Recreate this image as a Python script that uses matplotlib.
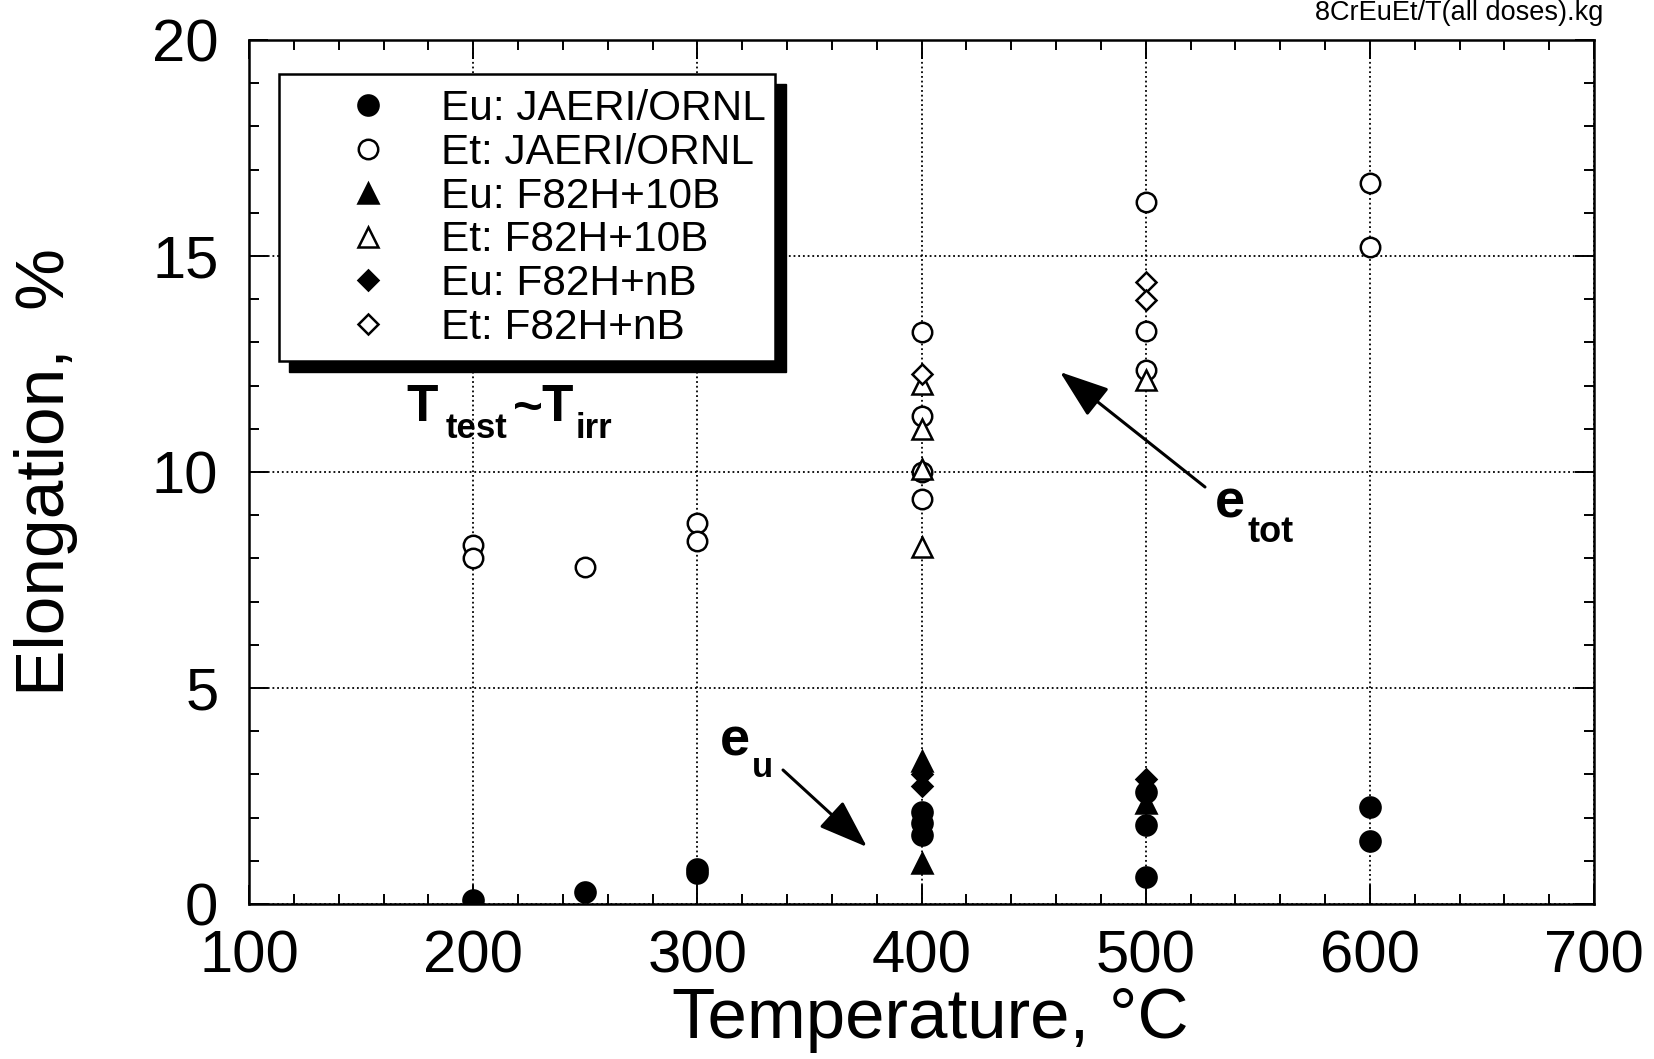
import matplotlib
matplotlib.use('Agg')
import matplotlib.pyplot as plt
from matplotlib.patches import Rectangle
from matplotlib.ticker import MultipleLocator

W, H, DPI = 1654, 1059, 100

# ---------------- data ----------------
eu_jo_T = [200, 250, 300, 300, 400, 400, 400, 500, 500, 500, 600, 600]
eu_jo_E = [0.09, 0.27, 0.80, 0.72, 2.12, 1.87, 1.60, 2.60, 1.83, 0.63, 2.25, 1.45]

et_jo_T = [200, 200, 250, 300, 300, 400, 400, 400, 400, 500, 500, 500, 600, 600]
et_jo_E = [8.31, 8.00, 7.79, 8.81, 8.40, 13.25, 11.30, 10.00, 9.38, 16.26, 13.27, 12.36, 16.68, 15.21]

eu_10b_T = [400, 400, 500]
eu_10b_E = [3.32, 0.95, 2.33]

et_10b_T = [400, 400, 400, 400, 500]
et_10b_E = [12.04, 11.00, 10.07, 8.27, 12.14]

eu_nb_T = [400, 400, 500]
eu_nb_E = [3.00, 2.73, 2.90]

et_nb_T = [400, 500, 500]
et_nb_E = [12.28, 14.40, 13.97]

series_labels = ["Eu: JAERI/ORNL", "Et: JAERI/ORNL", "Eu: F82H+10B",
                 "Et: F82H+10B", "Eu: F82H+nB", "Et: F82H+nB"]
x_ticks = [100, 200, 300, 400, 500, 600, 700]
y_ticks = [0, 5, 10, 15, 20]
x_label = "Temperature, °C"
y_label = "Elongation,  %"
corner_note = "8CrEuEt/T(all doses).kg"

# ---------------- style ----------------
FONT = "Liberation Sans"
plt.rcParams['font.family'] = [FONT, 'DejaVu Sans']

fig = plt.figure(figsize=(W / DPI, H / DPI), dpi=DPI)
ax_l, ax_r, ax_t, ax_b = 249, 1594, 40, 904
ax = fig.add_axes([ax_l / W, 1 - ax_b / H, (ax_r - ax_l) / W, (ax_b - ax_t) / H])


def fpx(px, py):
    """figure-pixel helper (top-left origin) -> figure fraction"""
    return px / W, 1 - py / H


mk = dict(ls='none', color='black', markeredgewidth=1.8, zorder=3)
s_o, s_t, s_d = 14, 14.5, 10
ax.plot(eu_jo_T, eu_jo_E, marker='o', ms=s_o + 0.5, mfc='black', label=series_labels[0], **mk)
ax.plot(et_jo_T, et_jo_E, marker='o', ms=s_o, mfc='white', label=series_labels[1], **mk)
ax.plot(eu_10b_T, eu_10b_E, marker='^', ms=s_t, mfc='black', label=series_labels[2], **mk)
ax.plot(et_10b_T, et_10b_E, marker='^', ms=s_t, mfc='white', label=series_labels[3], **mk)
ax.plot(eu_nb_T, eu_nb_E, marker='D', ms=s_d, mfc='black', label=series_labels[4], **mk)
ax.plot(et_nb_T, et_nb_E, marker='D', ms=s_d, mfc='white', label=series_labels[5], **mk)

ax.set_xlim(x_ticks[0], x_ticks[-1])
ax.set_ylim(y_ticks[0], y_ticks[-1])
ax.set_xticks(x_ticks)
ax.set_yticks(y_ticks)
ax.xaxis.set_minor_locator(MultipleLocator(20))
ax.yaxis.set_minor_locator(MultipleLocator(1))
ax.tick_params(which='both', direction='in', top=True, right=True, width=1.4, colors='black')
ax.tick_params(which='major', length=14, labelsize=43)
ax.tick_params(which='minor', length=7)
ax.tick_params(axis='x', which='major', pad=18.5)
ax.tick_params(axis='y', which='major', pad=22)
for sp in ax.spines.values():
    sp.set_linewidth(1.8)

ax.grid(True, which='major', color='black', linestyle=(0, (1, 1.6)), linewidth=1.3, zorder=1)
ax.set_axisbelow(True)

ax.set_xlabel(x_label, fontsize=51)
ax.set_ylabel(y_label, fontsize=50)
ax.xaxis.set_label_coords((930 - ax_l) / (ax_r - ax_l), (ax_b - 987) / (ax_b - ax_t))
ax.yaxis.set_label_coords((78 - ax_l) / (ax_r - ax_l), (ax_b - 472) / (ax_b - ax_t))

# legend box with black shadow
sx, sy = fpx(289, 372)
fig.add_artist(Rectangle((sx, sy), (786 - 289) / W, (372 - 84) / H, transform=fig.transFigure,
                         facecolor='black', edgecolor='black', zorder=4))
bx, by = fpx(279, 361)
fig.add_artist(Rectangle((bx, by), (775 - 279) / W, (361 - 74) / H, transform=fig.transFigure,
                         facecolor='white', edgecolor='black', linewidth=1.8, zorder=5))
leg_fs = 30.5
leg_fs_px = leg_fs * DPI / 72
leg = ax.legend(loc='upper left', bbox_to_anchor=fpx(367.5 - 0.5 * leg_fs_px, 89),
                bbox_transform=fig.transFigure, frameon=False, fontsize=leg_fs,
                handlelength=1.0, handletextpad=(441 - 367.5 - 0.5 * leg_fs_px) / leg_fs_px,
                labelspacing=0.09, borderpad=0, borderaxespad=0, markerscale=1.0)
leg.set_zorder(6)
fig.add_artist(leg)

# annotations
fig.text(*fpx(406, 421), "T", fontsize=37, fontweight='bold', ha='left', va='baseline')
fig.text(*fpx(446, 438), "test", fontsize=25, fontweight='bold', ha='left', va='baseline')
fig.text(*fpx(513, 423), "~", fontsize=37, fontweight='bold', ha='left', va='baseline')
fig.text(*fpx(541, 421), "T", fontsize=37, fontweight='bold', ha='left', va='baseline')
fig.text(*fpx(576, 438), "irr", fontsize=25, fontweight='bold', ha='left', va='baseline')

fig.text(*fpx(720, 755), "e", fontsize=39, fontweight='bold', ha='left', va='baseline')
fig.text(*fpx(752, 777), "u", fontsize=25, fontweight='bold', ha='left', va='baseline')
fig.text(*fpx(1215, 518), "e", fontsize=39, fontweight='bold', ha='left', va='baseline')
fig.text(*fpx(1247, 542), "tot", fontsize=26, fontweight='bold', ha='left', va='baseline')

arrow = dict(arrowstyle='-|>,head_length=0.9,head_width=0.32', lw=2.2, color='black',
             mutation_scale=34, shrinkA=0, shrinkB=0)
ax.annotate('', xy=(867, H - 847), xytext=(783, H - 770), xycoords='figure pixels',
            textcoords='figure pixels', arrowprops=arrow)
ax.annotate('', xy=(1060, H - 372), xytext=(1205, H - 487), xycoords='figure pixels',
            textcoords='figure pixels', arrowprops=arrow)

fig.text(*fpx(1603, 20), corner_note, fontsize=19.5, ha='right', va='baseline')

fig.savefig('out.png', dpi=DPI)
